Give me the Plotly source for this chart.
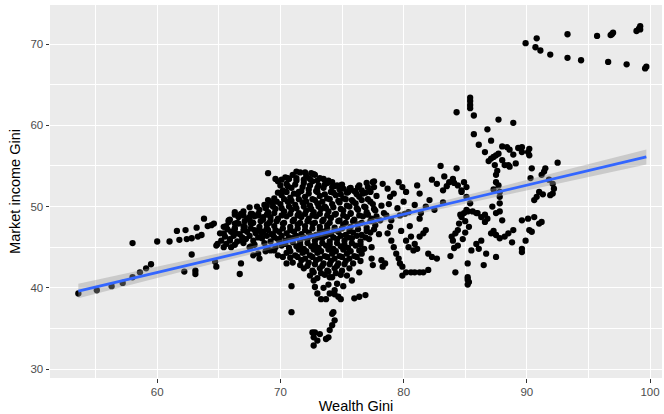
import plotly.graph_objects as go

# ---- data ----
top_right = [(89.9,70.1),(90.8,70.7),(90.7,69.6),(91.1,69.2),(91.9,68.7),(93.3,68.3),(93.3,71.2),
             (94.4,68.0),(95.7,71.0),(96.6,67.8),(96.8,71.1),(96.9,71.2),(97.0,71.4),(98.1,67.5),
             (98.9,71.6),(99.2,72.2),(99.2,71.8),(99.1,71.9),(99.6,67.0),(99.7,67.2)]

right_upper = [(84.3,61.6),(85.4,63.4),(85.4,63.0),(85.4,62.5),(85.4,62.1),(85.7,61.2),(87.7,60.7),
               (88.9,60.3),(85.7,58.9),(86.8,59.5),(87.1,58.1),(86.1,57.6),(86.6,56.7),(88.0,57.4),
               (88.4,57.3),(87.3,56.1),(87.5,56.3),(87.7,56.5),(87.4,55.1),(88.0,55.7),(88.2,55.1),
               (88.5,55.1),(89.1,55.3),(89.3,57.2),(89.6,57.3),(89.6,56.7),(90.1,56.7),(90.2,56.3),
               (90.2,57.1),(90.4,54.7),(90.3,53.5),(92.5,55.4),(91.5,54.7),(91.4,54.3),(91.2,53.9),
               (91.8,53.3),(92.1,52.8),(92.2,52.2),(92.1,51.6),(91.9,51.4),(91.0,51.8),(90.8,51.2),
               (90.6,50.8),(87.5,53.9),(87.5,53.0),(87.7,52.6),(87.8,51.8),(87.8,51.2),(87.8,50.4),
               (87.2,50.0),(87.5,49.2),(87.8,49.4),(88.0,48.3),(86.8,48.5),(87.1,46.7),(87.5,46.5),
               (87.8,46.1),(88.2,46.3),(88.5,46.7),(88.9,47.1),(87.5,43.8),(86.7,44.2),(86.5,42.8),
               (86.1,44.8),(86.3,45.8),(85.9,45.4),(85.5,44.6),(85.2,43.0),(85.2,41.3),(85.3,40.7),
               (85.2,40.4),(85.2,41.0),(84.2,41.9),(83.8,43.9),(84.0,45.8),(83.9,46.3),(84.2,46.7),
               (84.4,47.1),(84.5,47.9),(84.7,48.7),(84.9,49.2),(85.1,49.6),(85.2,49.4),(85.6,49.4),
               (85.9,49.2),(86.3,48.7),(85.4,50.4),(85.1,51.2),(84.7,52.0),(84.4,52.6),(84.3,54.7),
               (83.0,55.0),(83.3,53.7),(83.7,53.0),(82.7,52.8),(82.3,53.3),(84.7,51.8),(84.9,53.0),
               (85.1,52.4),(89.6,48.3),(90.1,48.5),(90.2,47.1),(89.9,45.8),(89.6,44.8),(89.6,44.4),
               (90.6,48.7),(91.0,47.9),(91.2,48.1),(90.4,46.9),(88.8,45.6),(86.0,49.2),(86.6,49.0),
               (83.5,52.5),(84.0,53.4),(88.6,54.9),(88.9,56.4),(91.3,51.5),
               (84.6,49.0),(85.0,48.2),(85.3,47.5),(85.0,46.8),(84.8,46.0),(84.4,45.2),(84.1,44.9),
               (86.9,55.6),(87.1,55.9),(87.6,54.4),(87.3,52.1),(86.6,48.1),(87.3,47.0),(88.6,57.0),
               (84.1,52.9),(83.2,52.0)]

middle = [(81.3,51.6),(81.1,52.6),(80.2,51.8),(79.9,52.4),(79.6,53.0),(79.2,51.6),(78.9,51.2),
          (82.1,50.8),(81.8,50.0),(81.4,49.2),(81.3,48.5),(81.8,47.1),(81.6,46.7),(81.3,46.3),
          (82.0,44.2),(82.3,43.8),(82.7,43.6),(82.0,42.2),(81.6,41.9),(81.3,41.9),(80.9,41.9),
          (80.6,41.9),(80.2,41.9),(79.9,41.5),(79.9,42.6),(79.7,43.0),(79.6,43.6),(79.4,44.2),
          (79.2,45.0),(79.0,45.8),(78.7,46.7),(78.9,47.5),(79.0,48.3),(80.2,45.8),(80.4,45.0),
          (80.8,44.6),(81.1,44.8),(80.9,45.4),(80.6,46.3),(79.7,48.9),(80.1,49.1),(80.4,49.3),
          (78.3,52.8),(78.7,52.2),(77.5,53.0),(77.6,52.4),(77.3,51.8),(78.3,42.6),(78.5,43.0),
          (78.2,43.4),(80.9,50.2),(80.0,50.6),(79.5,49.8),(78.6,48.9),(78.8,50.3),(80.5,47.6),
          (79.8,47.0),(82.5,49.6),(83.2,50.5)]

core = [(70.4,53.6),(71.0,53.9),(71.6,54.2),(72.1,53.7),(72.7,54.0),(73.2,53.5),(73.9,53.2),
        (69.8,53.1),(70.5,52.8),(71.3,53.2),(71.9,52.9),(72.6,53.1),(73.1,52.6),(73.8,52.9),
        (74.4,52.5),(75.0,52.7),(75.7,52.3),(76.4,52.6),(77.0,52.9),(77.6,53.1),
        (70.2,52.0),(70.9,52.3),(71.5,51.8),(72.3,52.1),(72.9,51.9),(73.5,52.3),(74.1,51.8),
        (74.8,52.1),(75.4,51.7),(76.0,51.9),(76.7,51.6),(77.3,51.9),
        (69.5,51.0),(70.1,51.4),(70.8,51.1),(71.4,51.5),(72.0,51.2),(72.6,50.9),(73.2,51.3),
        (73.8,51.0),(74.5,51.4),(75.1,51.0),(75.8,50.8),(76.4,51.2),(77.1,50.9),(77.8,51.3),
        (68.7,50.2),(69.3,50.5),(70.0,50.3),(70.6,50.6),(71.2,50.2),(71.8,50.5),(72.4,50.1),
        (73.0,50.4),(73.6,50.0),(74.2,50.3),(74.8,50.5),(75.4,50.1),(76.1,50.4),(76.8,50.0),
        (77.5,50.3),(78.2,50.1),
        (67.0,49.4),(67.7,49.1),(68.3,49.6),(69.0,49.3),(69.6,49.7),(70.3,49.4),(70.9,49.6),
        (71.5,49.2),(72.1,49.5),(72.7,49.3),(73.3,49.7),(73.9,49.4),(74.5,49.1),(75.1,49.5),
        (75.7,49.2),(76.3,49.6),(77.0,49.3),(77.7,49.5),(78.4,49.2),
        (65.9,48.4),(66.6,48.7),(67.3,48.5),(67.9,48.8),(68.6,48.4),(69.2,48.7),(69.8,48.5),
        (70.5,48.8),(71.1,48.4),(71.7,48.7),(72.3,48.5),(72.9,48.8),(73.5,48.4),(74.1,48.6),
        (74.8,48.3),(75.4,48.7),(76.0,48.4),(76.7,48.8),(77.4,48.5),(78.1,48.3),
        (65.6,47.6),(66.3,47.9),(67.0,47.6),(67.6,47.9),(68.3,47.5),(68.9,47.8),(69.5,47.6),
        (70.2,47.9),(70.8,47.5),(71.4,47.8),(72.0,47.6),(72.6,47.9),(73.2,47.5),(73.8,47.7),
        (74.4,47.4),(75.1,47.8),(75.7,47.5),(76.3,47.8),(77.0,47.4),(77.7,47.7),
        (65.4,46.7),(66.0,46.9),(66.7,46.6),(67.3,46.9),(68.0,46.7),(68.6,46.9),(69.3,46.6),
        (69.9,46.9),(70.5,46.7),(71.1,46.9),(71.7,46.6),(72.3,46.8),(72.9,46.5),(73.5,46.9),
        (74.1,46.6),(74.7,46.9),(75.3,46.5),(75.9,46.8),(76.6,46.5),(77.3,46.8),(78.0,46.6),
        (65.2,45.8),(65.9,46.0),(66.5,45.7),(67.2,46.0),(67.8,45.8),(68.5,46.1),(69.2,45.7),
        (69.8,46.0),(70.4,45.8),(71.0,46.1),(71.6,45.7),(72.2,46.0),(72.8,45.8),(73.4,46.1),
        (74.0,45.7),(74.6,46.0),(75.2,45.8),(75.8,46.1),(76.5,45.7),(77.2,46.0),
        (66.0,45.0),(67.6,45.1),(68.9,44.9),(70.1,45.2),(70.7,44.9),(71.3,45.1),(71.9,44.8),
        (72.5,45.1),(73.1,44.9),(73.7,45.2),(74.3,44.8),(74.9,45.1),(75.5,44.9),(76.1,45.2),
        (76.8,44.8),(77.4,45.0),
        (68.2,44.2),(69.8,44.0),(70.5,44.3),(71.2,44.0),(71.8,44.3),(72.4,44.0),(73.0,44.3),
        (73.6,43.9),(74.2,44.2),(74.8,43.9),(75.4,44.2),(76.0,43.9),(76.6,44.2),
        (71.0,43.1),(71.7,43.4),(72.3,43.1),(72.9,43.4),(73.5,43.0),(74.1,43.3),(74.7,43.0),
        (75.3,43.3),(75.9,43.0),(76.5,43.3),
        (71.9,42.4),(72.6,42.1),(73.2,42.4),(73.8,42.1),(74.4,42.4),(75.0,42.1),(75.6,42.4),
        (72.4,41.5),(73.0,41.2),(73.6,41.6),(74.2,41.3),(74.9,41.6),
        (69.0,54.1),(69.6,53.4),(70.1,53.3),(70.6,53.5),(71.3,54.3),(72.0,54.2),(72.5,54.1),
        (72.8,53.9),(74.2,53.0),(74.6,52.6),(75.1,52.2),(75.6,52.0),(76.1,51.8),(76.6,52.0),
        (77.1,52.4)]

core_fill = [(70.7,53.4),(71.3,53.5),(71.9,53.3),(72.4,53.4),(73.0,53.2),(73.5,53.4),
             (70.0,52.6),(70.6,52.5),(71.2,52.7),(71.8,52.4),(72.4,52.6),(73.0,52.3),(73.6,52.7),
             (74.2,52.4),(74.9,52.6),(75.6,52.2),(76.3,52.4),
             (69.8,51.7),(70.5,51.8),(71.1,51.6),(71.7,51.9),(72.3,51.6),(73.0,51.8),(73.6,51.5),
             (74.3,51.7),(74.9,51.5),(75.5,51.8),(76.2,51.5),(76.9,51.7),
             (69.0,50.8),(69.7,50.6),(70.3,50.9),(70.9,50.7),(71.5,50.9),(72.1,50.6),(72.8,50.8),
             (73.4,50.6),(74.0,50.9),(74.7,50.7),(75.3,50.9),(75.9,50.6),(76.6,50.8),(77.3,50.6),
             (67.5,49.9),(68.1,50.0),(68.8,49.8),(69.4,50.0),(70.1,49.8),(70.7,50.0),(71.3,49.8),
             (71.9,50.0),(72.5,49.7),(73.1,50.0),(73.7,49.8),(74.3,49.9),(74.9,49.7),(75.6,50.0),
             (76.2,49.8),(76.9,49.9),(77.6,49.7),
             (66.3,49.0),(67.0,48.9),(67.6,49.1),(68.2,48.9),(68.9,49.0),(69.5,49.2),(70.1,48.9),
             (70.8,49.1),(71.4,48.9),(72.0,49.1),(72.6,48.9),(73.2,49.1),(73.8,48.9),(74.4,49.0),
             (75.1,48.9),(75.7,49.1),(76.4,48.9),(77.1,49.0),(77.8,48.8),
             (65.8,48.1),(66.5,48.0),(67.1,48.2),(67.8,48.0),(68.4,48.2),(69.1,48.0),(69.7,48.2),
             (70.3,48.0),(71.0,48.2),(71.6,48.0),(72.2,48.2),(72.8,48.0),(73.4,48.2),(74.0,48.0),
             (74.7,48.2),(75.3,48.0),(75.9,48.2),(76.6,48.0),(77.3,48.2),
             (65.7,47.2),(66.3,47.3),(67.0,47.1),(67.6,47.3),(68.3,47.1),(68.9,47.3),(69.6,47.1),
             (70.2,47.3),(70.8,47.1),(71.4,47.3),(72.0,47.1),(72.6,47.3),(73.2,47.1),(73.8,47.3),
             (74.4,47.1),(75.0,47.3),(75.6,47.0),(76.3,47.2),(77.0,47.0),(77.6,47.2),
             (65.5,46.3),(66.2,46.4),(66.9,46.2),(67.5,46.4),(68.2,46.2),(68.9,46.4),(69.5,46.2),
             (70.1,46.4),(70.7,46.2),(71.3,46.4),(71.9,46.2),(72.5,46.4),(73.1,46.2),(73.7,46.4),
             (74.3,46.2),(74.9,46.4),(75.5,46.2),(76.2,46.4),(76.9,46.2),
             (65.6,45.4),(66.3,45.3),(67.0,45.5),(67.9,45.3),(68.7,45.5),(70.4,45.4),(71.0,45.6),
             (71.6,45.3),(72.2,45.5),(72.8,45.3),(73.4,45.5),(74.0,45.3),(74.6,45.5),(75.2,45.3),
             (75.8,45.5),(76.5,45.3),
             (69.2,44.6),(70.8,44.5),(71.5,44.7),(72.1,44.5),(72.7,44.7),(73.3,44.5),(73.9,44.7),
             (74.5,44.5),(75.1,44.7),(75.7,44.5),(76.4,44.6),
             (70.8,43.7),(71.4,43.8),(72.0,43.6),(72.6,43.8),(73.2,43.6),(73.8,43.8),(74.4,43.6),
             (75.0,43.8),(75.6,43.6),(76.2,43.8),
             (71.6,42.8),(72.2,42.7),(72.8,42.9),(73.4,42.7),(74.0,42.9),(74.6,42.7),(75.2,42.9),
             (72.7,41.9),(73.3,41.8),(73.9,42.0),(74.5,41.8)]

left_core = [(68.9,50.1),(68.2,49.1),(67.5,48.7),(66.8,49.1),(66.3,49.3),(65.8,48.3),(65.4,47.5),
             (65.1,46.7),(64.9,45.4),(65.4,45.0),(65.9,45.8),(66.4,46.7),(66.9,45.8),(67.5,45.0),
             (67.8,44.0),(68.3,43.6),(66.8,43.0),(66.7,41.7),(66.3,47.3),(66.6,47.9),(67.1,47.5),
             (67.6,48.1),(67.9,47.1),(68.5,46.7),(69.0,47.1),(69.2,48.3),(68.6,48.7),(69.6,45.0),
             (69.9,45.8),(69.4,46.5),(68.8,44.5),(69.5,44.6),(70.2,43.8),(70.5,43.0)]

bottom_tail = [(72.7,40.9),(72.8,40.1),(73.0,39.3),(73.3,38.6),(73.7,38.6),(74.0,39.3),(74.4,39.7),
               (74.6,40.5),(74.0,41.3),(74.7,38.9),(74.9,38.6),(74.2,36.8),(74.4,36.0),(74.2,35.4),
               (74.0,34.8),(73.9,33.9),(73.7,33.7),(72.8,34.5),(72.7,33.9),(72.7,32.9),(73.0,33.5),
               (73.2,34.3),(72.6,34.5),(74.3,37.0),(73.5,40.0),(73.9,40.4),(70.9,37.0),(70.9,40.2),
               (76.0,38.7),(76.4,38.9),(76.9,39.1),(76.4,41.9),(75.8,40.9),(75.4,41.5),(77.5,42.8),
               (77.4,43.6),(75.1,40.2),(74.4,39.2)]

left_tail = [(53.6,39.3),(55.1,39.7),(56.3,40.2),(57.2,40.6),(58.0,41.3),(58.6,41.9),(59.1,42.4),
             (59.5,42.9),(58.0,45.5),(60.0,45.7),(61.0,45.7),(61.6,47.0),(61.8,45.9),(62.3,47.1),
             (62.4,46.0),(62.8,46.1),(63.2,47.4),(63.3,46.3),(63.6,46.5),(63.8,48.5),(64.1,47.6),
             (64.4,47.7),(64.6,47.9),(62.2,42.0),(63.1,42.1),(63.1,41.7),(62.8,44.1),(64.7,43.2),
             (64.8,42.6),(64.8,45.2)]

# fitted line (lm) and its standard-error band
fit_x = [53.6, 99.7]
fit_y = [39.6, 56.1]
band_x = [53.6, 60.0, 65.0, 70.0, 76.0, 82.0, 88.0, 94.0, 99.7]
band_hw = [0.90, 0.69, 0.54, 0.42, 0.35, 0.42, 0.57, 0.76, 0.92]

x_ticks = [60, 70, 80, 90, 100]
y_ticks = [30, 40, 50, 60, 70]

# ---- build ----
pts = top_right + right_upper + middle + core + core_fill + left_core + bottom_tail + left_tail
px = [p[0] for p in pts]
py = [p[1] for p in pts]

slope = (fit_y[1] - fit_y[0]) / (fit_x[1] - fit_x[0])
band_c = [fit_y[0] + slope * (x - fit_x[0]) for x in band_x]
band_hi = [c + h for c, h in zip(band_c, band_hw)]
band_lo = [c - h for c, h in zip(band_c, band_hw)]

fig = go.Figure()
fig.add_trace(go.Scatter(x=px, y=py, mode="markers",
                         marker=dict(color="black", size=6.3, line=dict(width=0)),
                         hoverinfo="skip", showlegend=False))
fig.add_trace(go.Scatter(x=band_x + band_x[::-1], y=band_hi + band_lo[::-1],
                         fill="toself", fillcolor="rgba(153,153,153,0.4)",
                         line=dict(width=0), mode="lines", showlegend=False, hoverinfo="skip"))
fig.add_trace(go.Scatter(x=fit_x, y=fit_y, mode="lines",
                         line=dict(color="#3366FF", width=2.8), showlegend=False, hoverinfo="skip"))

axis_common = dict(showgrid=True, gridcolor="white", gridwidth=1.1, zeroline=False,
                   ticks="outside", ticklen=3.5, tickcolor="#333333", tickwidth=1.1,
                   tickfont=dict(family="Liberation Sans, Arial", size=11.5, color="#4D4D4D"),
                   showline=False,
                   minor=dict(showgrid=True, gridcolor="white", gridwidth=0.55, ticks=""))

fig.update_layout(
    width=664, height=414,
    margin=dict(l=50, r=2, t=5, b=36),
    plot_bgcolor="#EBEBEB", paper_bgcolor="white",
    font=dict(family="Liberation Sans, Arial", color="black"),
    xaxis=dict(range=[51.3, 100.97], tickvals=x_ticks, ticktext=[str(v) for v in x_ticks],
               title=dict(text="Wealth Gini", font=dict(size=14.5, color="black"), standoff=4),
               **axis_common),
    yaxis=dict(range=[28.9, 74.8], tickvals=y_ticks, ticktext=[str(v) for v in y_ticks],
               title=dict(text="Market income Gini", font=dict(size=14.5, color="black"), standoff=6),
               **axis_common),
)
fig.update_xaxes(minor=dict(tickvals=[55, 65, 75, 85, 95]))
fig.update_yaxes(minor=dict(tickvals=[35, 45, 55, 65]))

fig.write_html("out.html")
